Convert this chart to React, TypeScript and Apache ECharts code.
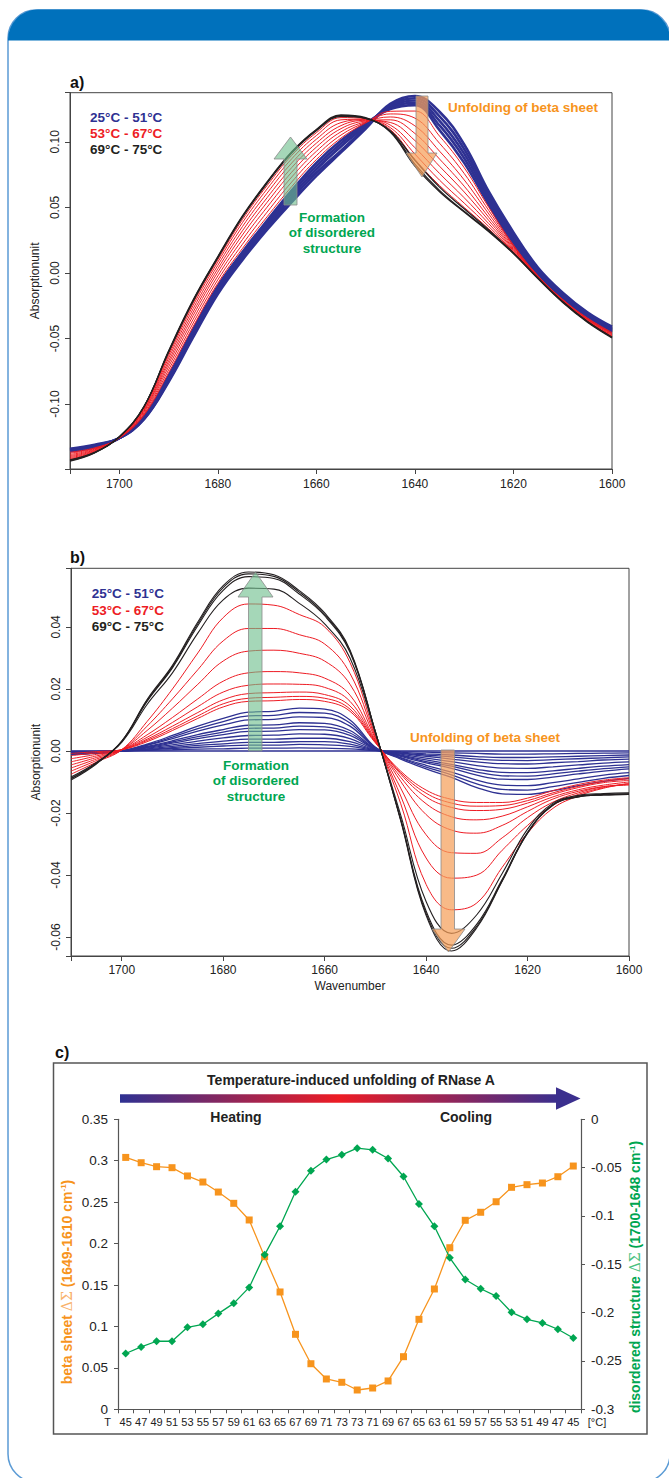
import { useEffect, useRef } from "react";
import * as echarts from "echarts";

const FONT = "'Liberation Sans', Arial, Helvetica, sans-serif";
const BLUE = "#2e3192";
const RED = "#ed1c24";
const BLACK = "#231f20";
const ORANGE = "#f7941d";
const GREEN = "#00a651";
const AXIS = "#444";

// Wavenumber grid (cm-1), shared by panels a and b
const WN = [1710, 1705, 1700, 1695, 1690, 1685, 1680, 1675, 1670, 1665, 1660, 1655, 1650, 1645, 1640, 1635, 1630, 1625, 1620, 1615, 1610, 1605, 1600];

// ---------- Panel a: absorption spectra ----------
const A_BLUE = [
  [-0.134, -0.131, -0.126, -0.1117, -0.0832, -0.049, -0.016, 0.010, 0.033, 0.054, 0.074, 0.092, 0.110, 0.129, 0.135, 0.123, 0.098, 0.062, 0.031, 0.004, -0.015, -0.030, -0.041],
  [-0.1345, -0.1315, -0.126, -0.1113, -0.0822, -0.0475, -0.0145, 0.0115, 0.0348, 0.0563, 0.0765, 0.0933, 0.111, 0.128, 0.1333, 0.1195, 0.0945, 0.0595, 0.0288, 0.0025, -0.0163, -0.031, -0.042],
  [-0.135, -0.132, -0.126, -0.1108, -0.0812, -0.046, -0.013, 0.013, 0.0365, 0.0585, 0.079, 0.0965, 0.112, 0.127, 0.1315, 0.116, 0.091, 0.057, 0.0265, 0.001, -0.0175, -0.032, -0.043],
  [-0.1355, -0.1325, -0.126, -0.1102, -0.080, -0.0445, -0.0115, 0.0145, 0.0383, 0.0608, 0.0815, 0.0988, 0.113, 0.126, 0.1298, 0.1125, 0.0875, 0.0545, 0.0243, -0.0005, -0.0188, -0.033, -0.044],
  [-0.136, -0.133, -0.126, -0.1095, -0.0785, -0.043, -0.010, 0.016, 0.040, 0.063, 0.084, 0.101, 0.114, 0.125, 0.128, 0.109, 0.084, 0.052, 0.022, -0.002, -0.020, -0.034, -0.045],
];
const A_RED = [
  [-0.1367, -0.1334, -0.1259, -0.1085, -0.0762, -0.0408, -0.0078, 0.0187, 0.0429, 0.0659, 0.0865, 0.1029, 0.1144, 0.1233, 0.1235, 0.1044, 0.0803, 0.05, 0.0213, -0.0022, -0.0202, -0.0343, -0.0454],
  [-0.1375, -0.1339, -0.1258, -0.1076, -0.074, -0.0382, -0.0052, 0.0219, 0.0464, 0.0694, 0.0895, 0.1052, 0.1149, 0.1213, 0.1181, 0.0989, 0.0759, 0.0476, 0.0205, -0.0024, -0.0204, -0.0347, -0.0459],
  [-0.1385, -0.1344, -0.1257, -0.1066, -0.0716, -0.0353, -0.0023, 0.0255, 0.0502, 0.0732, 0.0928, 0.1077, 0.1154, 0.119, 0.1122, 0.0929, 0.071, 0.045, 0.0195, -0.0027, -0.0207, -0.0351, -0.0464],
  [-0.1394, -0.1349, -0.1255, -0.1056, -0.0693, -0.0324, 0.0006, 0.029, 0.0539, 0.0769, 0.096, 0.1101, 0.1159, 0.1168, 0.1064, 0.0869, 0.0662, 0.0424, 0.0186, -0.003, -0.021, -0.0354, -0.0469],
  [-0.1402, -0.1354, -0.1254, -0.1048, -0.0672, -0.0298, 0.0032, 0.0322, 0.0574, 0.0804, 0.099, 0.1124, 0.1164, 0.1148, 0.101, 0.0814, 0.0618, 0.04, 0.0178, -0.0032, -0.0212, -0.0358, -0.0474],
  [-0.141, -0.1359, -0.1253, -0.104, -0.065, -0.0272, 0.0058, 0.0354, 0.0609, 0.0839, 0.102, 0.1147, 0.1169, 0.1128, 0.0956, 0.0759, 0.0574, 0.0376, 0.017, -0.0034, -0.0214, -0.0362, -0.0479],
  [-0.1418, -0.1363, -0.1252, -0.1032, -0.063, -0.0247, 0.0083, 0.0384, 0.0641, 0.0871, 0.1048, 0.1168, 0.1173, 0.1109, 0.0907, 0.0708, 0.0533, 0.0354, 0.0162, -0.0037, -0.0217, -0.0365, -0.0483],
  [-0.1424, -0.1367, -0.1251, -0.1025, -0.0615, -0.0228, 0.0102, 0.0408, 0.0667, 0.0897, 0.107, 0.1185, 0.1177, 0.1094, 0.0866, 0.0667, 0.05, 0.0336, 0.0156, -0.0038, -0.0218, -0.0368, -0.0487],
];
const A_BLACK = [
  [-0.1435, -0.1372, -0.1249, -0.1022, -0.0595, -0.0205, 0.0125, 0.0435, 0.0695, 0.0925, 0.1095, 0.1205, 0.1185, 0.1075, 0.0815, 0.062, 0.0465, 0.0315, 0.0148, -0.0045, -0.0225, -0.0375, -0.0495],
  [-0.1425, -0.1368, -0.1251, -0.1018, -0.0605, -0.0215, 0.0115, 0.0425, 0.0685, 0.0915, 0.1085, 0.1195, 0.118, 0.1085, 0.086, 0.0655, 0.049, 0.0328, 0.0152, -0.004, -0.022, -0.037, -0.049],
  [-0.143, -0.137, -0.125, -0.102, -0.060, -0.021, 0.012, 0.043, 0.069, 0.092, 0.109, 0.120, 0.118, 0.108, 0.083, 0.063, 0.047, 0.032, 0.015, -0.004, -0.022, -0.037, -0.049],
];

// ---------- Panel b: difference spectra ----------
const B_BLUE = [
  [0, 0, 0, 0, 0, 0, 0, 0, 0, 0, 0, 0, 0, 0, 0, 0, 0, 0, 0, 0, 0, 0, 0],
  [-0.0001, -0.0001, 0, 0.0002, 0.0004, 0.0006, 0.0007, 0.0009, 0.0009, 0.001, 0.0009, 0.0007, 0.0001, -0.0002, -0.0004, -0.0006, -0.0008, -0.001, -0.001, -0.0009, -0.0008, -0.0007, -0.0006],
  [-0.0002, -0.0001, 0, 0.0003, 0.0008, 0.0012, 0.0016, 0.0019, 0.0019, 0.0021, 0.002, 0.0015, 0.0002, -0.0004, -0.0009, -0.0013, -0.0018, -0.0021, -0.0021, -0.0019, -0.0017, -0.0015, -0.0013],
  [-0.0003, -0.0002, 0, 0.0005, 0.0011, 0.0018, 0.0023, 0.0028, 0.0028, 0.003, 0.003, 0.0022, 0.0003, -0.0006, -0.0013, -0.0019, -0.0026, -0.003, -0.0031, -0.0028, -0.0025, -0.0022, -0.0019],
  [-0.0004, -0.0002, 0, 0.0007, 0.0015, 0.0024, 0.0032, 0.0038, 0.0038, 0.0041, 0.0041, 0.003, 0.0004, -0.0008, -0.0017, -0.0026, -0.0035, -0.0041, -0.0042, -0.0038, -0.0034, -0.0029, -0.0026],
  [-0.0005, -0.0003, 0, 0.0009, 0.002, 0.0032, 0.0042, 0.005, 0.0051, 0.0055, 0.0054, 0.004, 0.0005, -0.001, -0.0023, -0.0034, -0.0047, -0.0055, -0.0056, -0.0051, -0.0045, -0.0039, -0.0035],
  [-0.0006, -0.0004, 0, 0.0011, 0.0025, 0.004, 0.0053, 0.0063, 0.0064, 0.0069, 0.0068, 0.005, 0.0006, -0.0013, -0.0029, -0.0043, -0.0059, -0.0069, -0.007, -0.0064, -0.0056, -0.0049, -0.0044],
  [-0.0007, -0.0005, 0, 0.0013, 0.0029, 0.0046, 0.0061, 0.0073, 0.0074, 0.008, 0.0078, 0.0058, 0.0007, -0.0015, -0.0034, -0.0049, -0.0068, -0.008, -0.0081, -0.0074, -0.0065, -0.0057, -0.0051],
  [-0.0008, -0.0005, 0, 0.0015, 0.0033, 0.0053, 0.0069, 0.0083, 0.0084, 0.0091, 0.0089, 0.0066, 0.0008, -0.0017, -0.0038, -0.0056, -0.0078, -0.0091, -0.0092, -0.0084, -0.0074, -0.0065, -0.0058],
  [-0.001, -0.0006, 0, 0.0018, 0.004, 0.0064, 0.0084, 0.01, 0.0102, 0.011, 0.0108, 0.008, 0.001, -0.0021, -0.0046, -0.0068, -0.0094, -0.011, -0.0112, -0.0102, -0.009, -0.0078, -0.007],
  [-0.0011, -0.0007, 0, 0.002, 0.0045, 0.0072, 0.0095, 0.0113, 0.0115, 0.0124, 0.0122, 0.009, 0.0011, -0.0023, -0.0052, -0.0077, -0.0106, -0.0124, -0.0126, -0.0115, -0.0101, -0.0088, -0.0079],
  [-0.0012, -0.0008, 0, 0.0022, 0.005, 0.008, 0.0105, 0.0125, 0.0128, 0.0138, 0.0135, 0.01, 0.0012, -0.0026, -0.0058, -0.0085, -0.0118, -0.0138, -0.014, -0.0128, -0.0112, -0.0098, -0.0088],
];
const B_RED = [
  [-0.0008, -0.0002, 0.0004, 0.003, 0.0066, 0.0105, 0.0142, 0.016, 0.0162, 0.0166, 0.016, 0.0128, 0.0026, -0.0065, -0.0126, -0.0156, -0.0166, -0.0166, -0.0152, -0.0128, -0.0108, -0.0094, -0.0086],
  [-0.0015, -0.0006, 0.0004, 0.0034, 0.0072, 0.0113, 0.0152, 0.017, 0.0173, 0.0176, 0.017, 0.0135, 0.0028, -0.007, -0.0136, -0.0168, -0.0178, -0.0176, -0.016, -0.0135, -0.0114, -0.0098, -0.009],
  [-0.0025, -0.0011, 0.0004, 0.0038, 0.008, 0.0124, 0.0165, 0.0185, 0.0188, 0.019, 0.0182, 0.0145, 0.003, -0.0075, -0.0148, -0.0182, -0.0192, -0.0188, -0.0168, -0.014, -0.0118, -0.0102, -0.0095],
  [-0.0035, -0.0016, 0.0004, 0.0044, 0.0092, 0.0143, 0.019, 0.0212, 0.0216, 0.0215, 0.0205, 0.016, 0.0032, -0.0085, -0.017, -0.0212, -0.0222, -0.021, -0.018, -0.0148, -0.0125, -0.011, -0.01],
  [-0.0045, -0.0021, 0.0004, 0.0052, 0.0108, 0.0168, 0.0225, 0.0252, 0.0256, 0.0252, 0.0235, 0.018, 0.0035, -0.0098, -0.0205, -0.0255, -0.0265, -0.024, -0.0195, -0.0155, -0.013, -0.0115, -0.011],
  [-0.0055, -0.0026, 0.0004, 0.0066, 0.0138, 0.0215, 0.029, 0.0322, 0.0325, 0.0315, 0.029, 0.0215, 0.004, -0.012, -0.027, -0.0328, -0.033, -0.028, -0.0215, -0.0165, -0.0135, -0.0115, -0.0108],
  [-0.0065, -0.0031, 0.0004, 0.008, 0.0168, 0.0262, 0.0355, 0.0395, 0.0395, 0.0375, 0.0345, 0.025, 0.0045, -0.0145, -0.0345, -0.041, -0.04, -0.032, -0.024, -0.0175, -0.014, -0.0118, -0.0106],
  [-0.0075, -0.0036, 0.0004, 0.0095, 0.02, 0.0316, 0.043, 0.0474, 0.047, 0.044, 0.04, 0.0285, 0.005, -0.017, -0.043, -0.0512, -0.049, -0.0375, -0.0265, -0.0185, -0.0145, -0.012, -0.0104],
];
const B_BLACK = [
  [-0.0084, -0.0037, 0.0028, 0.015, 0.0252, 0.038, 0.0487, 0.0525, 0.0522, 0.0476, 0.041, 0.03, 0.0058, -0.0207, -0.0485, -0.0588, -0.0528, -0.0395, -0.0252, -0.0168, -0.0143, -0.0137, -0.0135],
  [-0.0088, -0.0039, 0.003, 0.016, 0.0268, 0.0404, 0.0518, 0.0562, 0.0556, 0.0506, 0.0436, 0.0318, 0.0062, -0.022, -0.0516, -0.0626, -0.0558, -0.0414, -0.0262, -0.0172, -0.0146, -0.014, -0.0138],
  [-0.009, -0.004, 0.0031, 0.0163, 0.0272, 0.041, 0.0527, 0.0571, 0.0563, 0.0512, 0.044, 0.0322, 0.0062, -0.0222, -0.0524, -0.0636, -0.0565, -0.0418, -0.0265, -0.0175, -0.0148, -0.0142, -0.014],
  [-0.0094, -0.0042, 0.0032, 0.0166, 0.0276, 0.0416, 0.0533, 0.0577, 0.0568, 0.0517, 0.0445, 0.0326, 0.0062, -0.0225, -0.053, -0.0645, -0.057, -0.042, -0.0265, -0.0174, -0.0148, -0.0142, -0.014],
];

// ---------- Panel c: integrated band changes ----------
const TEMPS = ["45", "47", "49", "51", "53", "55", "57", "59", "61", "63", "65", "67", "69", "71", "73", "73", "71", "69", "67", "65", "63", "61", "59", "57", "55", "53", "51", "49", "47", "45"];
const BETA_SHEET = [0.304, 0.2976, 0.2928, 0.2916, 0.2816, 0.2743, 0.2622, 0.2486, 0.2285, 0.1842, 0.1416, 0.0905, 0.055, 0.0366, 0.0326, 0.0233, 0.0257, 0.0342, 0.0635, 0.1086, 0.1452, 0.195, 0.2281, 0.2378, 0.2505, 0.2679, 0.2711, 0.2731, 0.2807, 0.2936];
const DISORDERED = [-0.2423, -0.2355, -0.2296, -0.2296, -0.2152, -0.2121, -0.201, -0.1904, -0.1739, -0.1402, -0.1107, -0.075, -0.0533, -0.0416, -0.0368, -0.0299, -0.0316, -0.0406, -0.0592, -0.0876, -0.1107, -0.1433, -0.1657, -0.1753, -0.1829, -0.1997, -0.2069, -0.2107, -0.2172, -0.2262];

const LEGEND_LABELS = ["25°C - 51°C", "53°C - 67°C", "69°C - 75°C"];

function stepFormatter(step: number) {
  return (v: number) => {
    const k = v / step;
    if (Math.abs(k - Math.round(k)) > 1e-6) return "";
    if (Math.abs(v) < 1e-9) return "0.00";
    return v.toFixed(2);
  };
}

function spectra(rows: number[][], color: string, width: number, idx: number) {
  return rows.map((r) => ({
    type: "line",
    xAxisIndex: idx,
    yAxisIndex: idx,
    data: WN.map((w, i) => [w, r[i]]),
    symbol: "none",
    smooth: 0.4,
    silent: true,
    lineStyle: { color, width },
    z: 2,
  }));
}

const axisLineStyle = { show: true, onZero: false, lineStyle: { color: AXIS, width: 1 } };

function wnAxis(idx: number, margin: number, name?: string) {
  return {
    type: "value",
    gridIndex: idx,
    min: 1600,
    max: 1710,
    inverse: true,
    minInterval: 20,
    maxInterval: 20,
    axisLine: axisLineStyle,
    axisTick: { show: true, length: 5, lineStyle: { color: AXIS } },
    splitLine: { show: false },
    axisLabel: {
      fontSize: 12,
      color: "#222",
      fontFamily: FONT,
      margin,
      formatter: (v: number) => (Math.abs(v % 20) < 1e-9 ? String(v) : ""),
    },
    name,
    nameLocation: "middle",
    nameGap: 24,
    nameTextStyle: { fontSize: 12, color: "#222", fontFamily: FONT },
  };
}

function absAxis(idx: number, min: number, max: number, step: number) {
  return {
    type: "value",
    gridIndex: idx,
    min,
    max,
    minInterval: step,
    maxInterval: step,
    axisLine: axisLineStyle,
    axisTick: { show: true, length: 5, lineStyle: { color: AXIS } },
    splitLine: { show: false },
    axisLabel: { rotate: 90, fontSize: 12, color: "#222", fontFamily: FONT, margin: 9, formatter: stepFormatter(step) },
    name: "Absorptionunit",
    nameLocation: "middle",
    nameRotate: 90,
    nameGap: 19,
    nameTextStyle: { fontSize: 12, color: "#222", fontFamily: FONT },
  };
}

function txt(x: number, y: number, text: string, font: string, fill: string, align = "left") {
  return {
    type: "text",
    z: 20,
    silent: true,
    style: { text, x, y, font, fill, textAlign: align, align, textVerticalAlign: "middle", verticalAlign: "middle" },
  };
}

function arrow(points: number[][], fill: string) {
  return {
    type: "polygon",
    z: 15,
    silent: true,
    shape: { points },
    style: { fill, stroke: "#8a8a8a", lineWidth: 0.8 },
  };
}

function buildOption() {
  const bold13 = `bold 13.5px ${FONT}`;
  const graphics: any[] = [
    // frame
    { type: "rect", z: 0, silent: true, shape: { x: 8, y: 10, width: 662, height: 1472, r: 28 }, style: { fill: "none", stroke: "#5b9bd5", lineWidth: 1.5 } },
    { type: "rect", z: 1, silent: true, shape: { x: 8, y: 9.5, width: 662, height: 31, r: [30, 30, 0, 0] }, style: { fill: "#0071bc" } },
    // panel labels
    txt(70, 82.5, "a)", `bold 16px ${FONT}`, "#111"),
    txt(70, 557, "b)", `bold 16px ${FONT}`, "#111"),
    txt(55, 1052, "c)", `bold 16px ${FONT}`, "#111"),
    // panel a annotations
    arrow([[284, 205], [297, 205], [297, 159], [307, 159], [290.5, 137], [274, 159], [284, 159]], "rgba(110,190,140,0.62)"),
    arrow([[416, 96], [428, 96], [428, 153], [437, 153], [422, 177], [406, 153], [416, 153]], "rgba(245,160,90,0.72)"),
    txt(90, 117.7, LEGEND_LABELS[0], bold13, BLUE),
    txt(90, 133.5, LEGEND_LABELS[1], bold13, RED),
    txt(90, 149.3, LEGEND_LABELS[2], bold13, BLACK),
    txt(523, 107, "Unfolding of beta sheet", bold13, ORANGE, "center"),
    txt(332, 217, "Formation", bold13, GREEN, "center"),
    txt(332, 232.7, "of disordered", bold13, GREEN, "center"),
    txt(332, 248.3, "structure", bold13, GREEN, "center"),
    // panel b annotations
    arrow([[248.5, 751], [262, 751], [262, 597], [273, 597], [255.5, 572], [238, 597], [248.5, 597]], "rgba(110,190,140,0.62)"),
    arrow([[441, 750], [454.5, 750], [454.5, 929], [465, 929], [448.5, 952], [432, 929], [441, 929]], "rgba(245,160,90,0.72)"),
    txt(91.7, 593.3, LEGEND_LABELS[0], bold13, BLUE),
    txt(91.7, 610, LEGEND_LABELS[1], bold13, RED),
    txt(91.7, 626.3, LEGEND_LABELS[2], bold13, BLACK),
    txt(485, 737.3, "Unfolding of beta sheet", bold13, ORANGE, "center"),
    txt(256, 765, "Formation", bold13, GREEN, "center"),
    txt(256, 780.7, "of disordered", bold13, GREEN, "center"),
    txt(256, 796.3, "structure", bold13, GREEN, "center"),
    // panel c frame and annotations
    { type: "rect", z: 1, silent: true, shape: { x: 53.5, y: 1063, width: 593.5, height: 371 }, style: { fill: "none", stroke: "#555", lineWidth: 1.5 } },
    txt(351, 1080, "Temperature-induced unfolding of RNase A", `bold 14px ${FONT}`, "#222", "center"),
    {
      type: "rect",
      z: 5,
      silent: true,
      shape: { x: 120, y: 1094.3, width: 437, height: 8.4 },
      style: {
        fill: new echarts.graphic.LinearGradient(0, 0, 1, 0, [
          { offset: 0, color: "#2e3192" },
          { offset: 0.5, color: "#ed1c24" },
          { offset: 1, color: "#3b2f8e" },
        ]),
      },
    },
    { type: "polygon", z: 5, silent: true, shape: { points: [[556, 1087.3], [580.5, 1098.5], [556, 1109.7]] }, style: { fill: "#3b2f8e" } },
    txt(236, 1117.3, "Heating", `bold 14px ${FONT}`, "#222", "center"),
    txt(466, 1117.3, "Cooling", `bold 14px ${FONT}`, "#222", "center"),
    txt(107.6, 1422, "T", `11px ${FONT}`, "#222", "center"),
    txt(597, 1422, "[°C]", `11px ${FONT}`, "#222", "center"),
    {
      type: "text",
      z: 20,
      silent: true,
      x: 66.5,
      y: 1282,
      rotation: Math.PI / 2,
      style: {
        text: "beta sheet {d|ΔΣ} (1649-1610 cm{s|-1})",
        font: `bold 14px ${FONT}`,
        fill: ORANGE,
        textAlign: "center",
        align: "center",
        textVerticalAlign: "middle",
        verticalAlign: "middle",
        rich: {
          d: { fontFamily: "'DejaVu Serif', serif", fontSize: 14, fontWeight: "normal", fill: "#f9b26b" },
          s: { fontFamily: FONT, fontSize: 8, fontWeight: "bold", fill: ORANGE, verticalAlign: "top" },
        },
      },
    },
    {
      type: "text",
      z: 20,
      silent: true,
      x: 635,
      y: 1277,
      rotation: Math.PI / 2,
      style: {
        text: "disordered structure {d|ΔΣ} (1700-1648 cm{s|-1})",
        font: `bold 14px ${FONT}`,
        fill: GREEN,
        textAlign: "center",
        align: "center",
        textVerticalAlign: "middle",
        verticalAlign: "middle",
        rich: {
          d: { fontFamily: "'DejaVu Serif', serif", fontSize: 14, fontWeight: "normal", fill: "#4cc17f" },
          s: { fontFamily: FONT, fontSize: 8, fontWeight: "bold", fill: GREEN, verticalAlign: "top" },
        },
      },
    },
  ];

  const gridBox = { show: true, borderColor: AXIS, borderWidth: 1, backgroundColor: "transparent", containLabel: false, outerBoundsMode: "none" };

  return {
    animation: false,
    backgroundColor: "#ffffff",
    textStyle: { fontFamily: FONT },
    grid: [
      { ...gridBox, left: 70, top: 92.7, width: 542, height: 376.3 },
      { ...gridBox, left: 71, top: 568.3, width: 558, height: 387.7 },
      { left: 118, top: 1119.3, width: 463, height: 290, show: false, containLabel: false, outerBoundsMode: "none" },
    ],
    xAxis: [
      wnAxis(0, 9),
      wnAxis(1, 8, "Wavenumber"),
      {
        type: "category",
        gridIndex: 2,
        data: TEMPS.map((_, i) => String(i)),
        boundaryGap: true,
        axisLine: { show: true, onZero: false, lineStyle: { color: "#555", width: 1.2 } },
        axisTick: { show: true, interval: 0, length: 4, lineStyle: { color: "#555" } },
        axisLabel: { interval: 0, fontSize: 11, color: "#222", fontFamily: FONT, margin: 7, formatter: (_v: string, i: number) => TEMPS[i] },
        splitLine: { show: false },
      },
    ],
    yAxis: [
      absAxis(0, -0.1495, 0.1375, 0.05),
      absAxis(1, -0.0661, 0.0589, 0.02),
      {
        type: "value",
        gridIndex: 2,
        position: "left",
        min: 0,
        max: 0.35,
        interval: 0.05,
        axisLine: { show: true, onZero: false, lineStyle: { color: "#555", width: 1.2 } },
        axisTick: { show: true, length: 4, lineStyle: { color: "#555" } },
        axisLabel: { fontSize: 13.5, color: "#222", fontFamily: FONT, margin: 10 },
        splitLine: { show: false },
      },
      {
        type: "value",
        gridIndex: 2,
        position: "right",
        min: -0.3,
        max: 0,
        interval: 0.05,
        axisLine: { show: true, onZero: false, lineStyle: { color: "#555", width: 1.2 } },
        axisTick: { show: true, length: 4, lineStyle: { color: "#555" } },
        axisLabel: { fontSize: 13.5, color: "#222", fontFamily: FONT, margin: 10 },
        splitLine: { show: false },
      },
    ],
    series: [
      ...spectra(A_BLUE, BLUE, 2.6, 0),
      ...spectra(A_RED, RED, 1.0, 0),
      ...spectra(A_BLACK, BLACK, 1.3, 0),
      ...spectra(B_BLUE, BLUE, 1.3, 1),
      ...spectra(B_RED, RED, 1.0, 1),
      ...spectra(B_BLACK, BLACK, 1.1, 1),
      {
        type: "line",
        xAxisIndex: 2,
        yAxisIndex: 2,
        data: BETA_SHEET,
        symbol: "rect",
        symbolSize: 7,
        silent: true,
        lineStyle: { color: ORANGE, width: 1.3 },
        itemStyle: { color: ORANGE },
        z: 3,
      },
      {
        type: "line",
        xAxisIndex: 2,
        yAxisIndex: 3,
        data: DISORDERED,
        symbol: "diamond",
        symbolSize: 8,
        silent: true,
        lineStyle: { color: GREEN, width: 1.3 },
        itemStyle: { color: GREEN },
        z: 3,
      },
    ],
    graphic: { elements: graphics },
  };
}

export default function App() {
  const ref = useRef<HTMLDivElement>(null);
  useEffect(() => {
    if (!ref.current) return;
    const chart = echarts.init(ref.current, null, { renderer: "svg" });
    chart.setOption(buildOption() as any);
    return () => chart.dispose();
  }, []);
  return (
    <div
      ref={ref}
      style={{ position: "absolute", left: 0, top: 0, width: 669, height: 1478, background: "#fff" }}
    />
  );
}
